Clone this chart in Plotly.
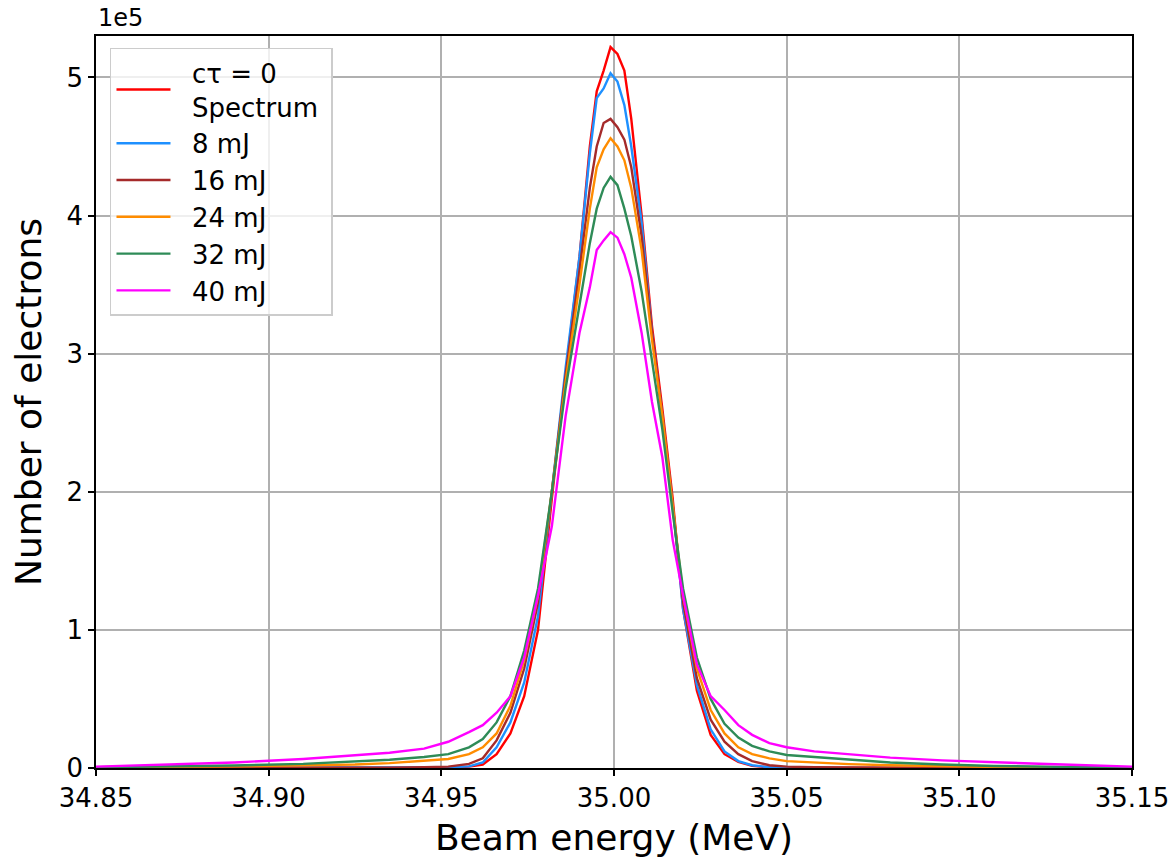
import plotly.graph_objects as go

# Beam energy grid (MeV)
energy = [34.850, 34.870, 34.890, 34.910, 34.925, 34.935, 34.945, 34.952, 34.958, 34.962,
          34.966, 34.970, 34.974, 34.978, 34.982, 34.986, 34.990, 34.993, 34.995, 34.997,
          34.999, 35.001, 35.003, 35.005, 35.008, 35.011, 35.014, 35.017, 35.020, 35.024,
          35.028, 35.032, 35.036, 35.040, 35.045, 35.050, 35.058, 35.068, 35.080, 35.095,
          35.110, 35.130, 35.150]

# Number of electrons (units of 1e5)
spectrum = [0.0, 0.0, 0.0, 0.0, 0.0, 0.0, 0.0, 0.003, 0.01, 0.025,
            0.1, 0.25, 0.52, 1.0, 1.95, 2.85, 3.7, 4.5, 4.9, 5.05,
            5.22, 5.17, 5.05, 4.7, 4.0, 3.2, 2.6, 1.95, 1.15, 0.56,
            0.24, 0.1, 0.045, 0.015, 0.005, 0.0, 0.0, 0.0, 0.0, 0.0,
            0.0, 0.0, 0.0]
mj8 = [0.0, 0.0, 0.0, 0.0, 0.0, 0.0, 0.002, 0.005, 0.012, 0.04,
       0.15, 0.33, 0.62, 1.1, 2.0, 2.9, 3.7, 4.45, 4.85, 4.92,
       5.03, 4.97, 4.8, 4.5, 3.95, 3.15, 2.55, 1.9, 1.15, 0.6,
       0.28, 0.12, 0.05, 0.02, 0.005, 0.0, 0.0, 0.0, 0.0, 0.0,
       0.0, 0.0, 0.0]
mj16 = [0.0, 0.0, 0.0, 0.0, 0.002, 0.003, 0.006, 0.01, 0.03, 0.07,
        0.2, 0.4, 0.72, 1.2, 2.0, 2.85, 3.6, 4.2, 4.5, 4.67,
        4.70, 4.64, 4.55, 4.35, 3.85, 3.15, 2.55, 1.9, 1.2, 0.65,
        0.35, 0.19, 0.1, 0.05, 0.02, 0.01, 0.005, 0.003, 0.002, 0.0,
        0.0, 0.0, 0.0]
mj24 = [0.005, 0.008, 0.012, 0.02, 0.025, 0.035, 0.05, 0.065, 0.1, 0.15,
        0.25, 0.45, 0.78, 1.25, 2.0, 2.8, 3.5, 4.05, 4.35, 4.48,
        4.56, 4.50, 4.4, 4.2, 3.75, 3.1, 2.55, 1.9, 1.25, 0.72,
        0.42, 0.25, 0.15, 0.1, 0.07, 0.05, 0.04, 0.028, 0.02, 0.012,
        0.008, 0.005, 0.003]
mj32 = [0.005, 0.01, 0.018, 0.03, 0.045, 0.06, 0.08, 0.1, 0.15, 0.21,
        0.33, 0.52, 0.85, 1.3, 2.0, 2.75, 3.35, 3.8, 4.05, 4.2,
        4.28, 4.22, 4.05, 3.85, 3.45, 2.95, 2.45, 1.85, 1.3, 0.8,
        0.5, 0.32, 0.22, 0.16, 0.12, 0.094, 0.08, 0.06, 0.04, 0.025,
        0.015, 0.008, 0.004]
mj40 = [0.01, 0.025, 0.04, 0.065, 0.09, 0.11, 0.14, 0.19, 0.26, 0.31,
        0.4, 0.52, 0.8, 1.25, 1.75, 2.55, 3.15, 3.48, 3.75, 3.82,
        3.88, 3.84, 3.72, 3.55, 3.15, 2.65, 2.25, 1.65, 1.25, 0.75,
        0.52, 0.42, 0.31, 0.24, 0.18, 0.15, 0.12, 0.1, 0.075, 0.055,
        0.04, 0.025, 0.01]

PAD = "\u00a0\u00a0"
series = [
    (PAD + "c\u03c4 = 0<br>" + PAD + "Spectrum\u00a0", spectrum, "#ff0000"),
    (PAD + "8 mJ", mj8, "#1e90ff"),
    (PAD + "16 mJ", mj16, "#a52a2a"),
    (PAD + "24 mJ", mj24, "#ff8c00"),
    (PAD + "32 mJ", mj32, "#2e8b57"),
    (PAD + "40 mJ", mj40, "#ff00ff"),
]

y_ticks = [0, 1, 2, 3, 4, 5]
x_ticks = [34.85, 34.90, 34.95, 35.00, 35.05, 35.10, 35.15]

FONT = "DejaVu Sans"
fig = go.Figure()
for name, vals, col in series:
    fig.add_trace(go.Scatter(
        x=energy, y=[v * 1e5 for v in vals], mode="lines", name=name,
        line=dict(color=col, width=2.4)))

axis_common = dict(
    showline=True, linecolor="black", linewidth=1.5, mirror=True,
    ticks="outside", ticklen=6, tickwidth=1.5, tickcolor="black",
    showgrid=True, gridcolor="#b0b0b0", gridwidth=1.5, automargin=False,
    zeroline=False, tickfont=dict(family=FONT, size=26, color="black"),
)

fig.update_layout(
    width=1173, height=858, autosize=False,
    margin=dict(l=96, r=41, t=36, b=90, autoexpand=False),
    paper_bgcolor="white", plot_bgcolor="white",
    font=dict(family=FONT, color="black"),
    xaxis=dict(range=[34.85, 35.15], tickvals=x_ticks,
               ticktext=[f"{t:.2f}" for t in x_ticks],
               title=dict(text="Beam energy (MeV)", font=dict(family=FONT, size=36), standoff=15),
               **axis_common),
    yaxis=dict(range=[0, 5.3e5], tickvals=[t * 1e5 for t in y_ticks],
               ticktext=[str(t) for t in y_ticks],
               title=dict(text="Number of electrons", font=dict(family=FONT, size=36), standoff=14),
               **axis_common),
    legend=dict(x=0.0135, y=0.984, xanchor="left", yanchor="top",
                bgcolor="rgba(255,255,255,0.8)", bordercolor="#cccccc", borderwidth=1.5,
                font=dict(family=FONT, size=26, color="black"), itemwidth=54,
                tracegroupgap=0),
    showlegend=True,
    annotations=[dict(text="1e5", xref="paper", yref="paper", x=0, y=1.0,
                      xanchor="left", yanchor="bottom", showarrow=False,
                      font=dict(family=FONT, size=24, color="black"), yshift=2)],
)

fig.write_html("out.html")
